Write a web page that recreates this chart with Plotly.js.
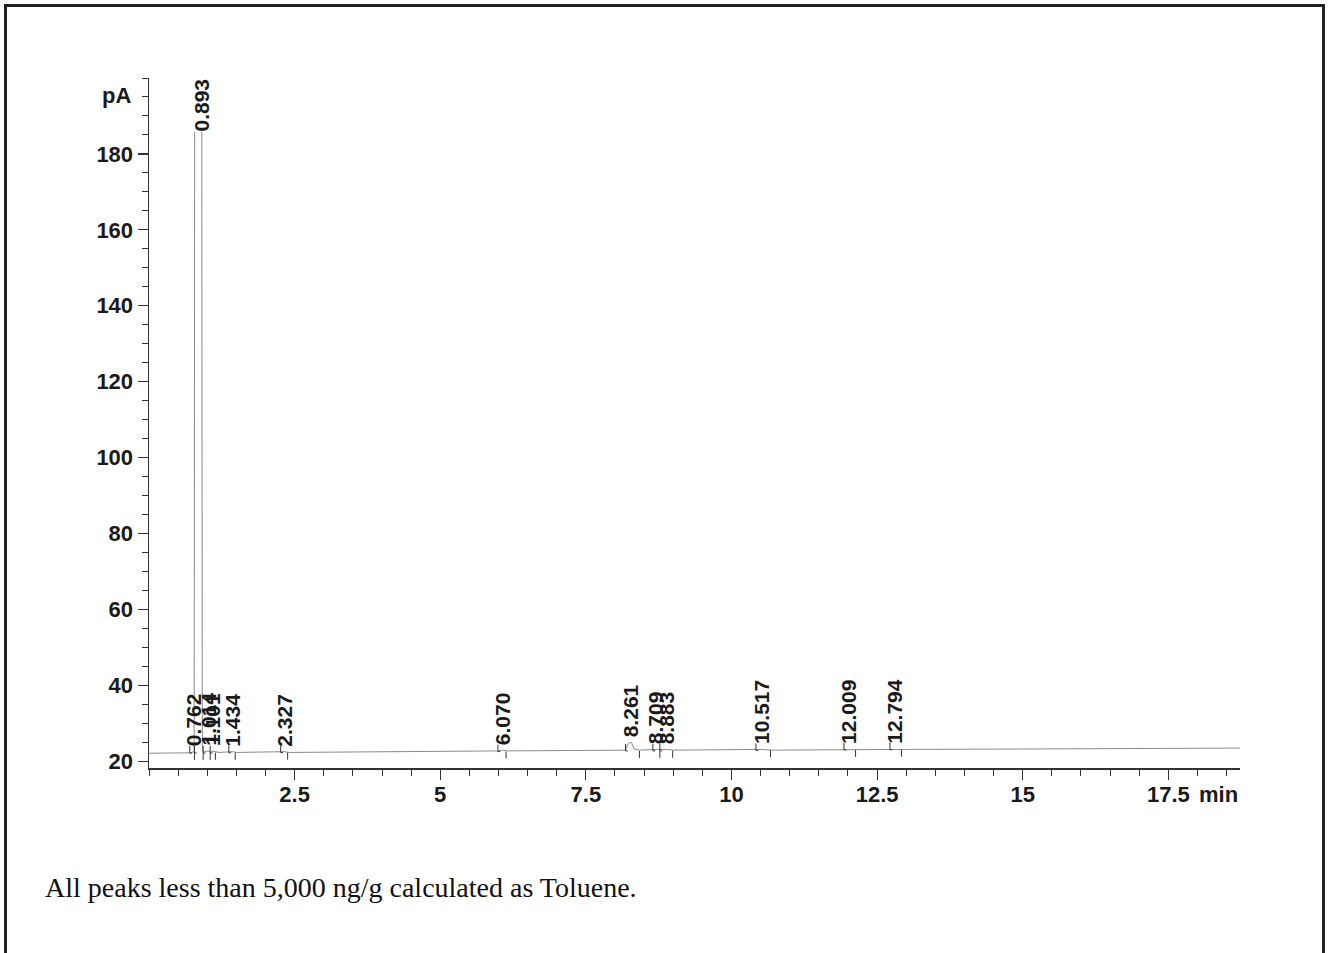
<!DOCTYPE html>
<html>
<head>
<meta charset="utf-8">
<script src="https://cdn.plot.ly/plotly-3.0.1.min.js"></script>
<style>
  html, body { margin: 0; padding: 0; background: #fff; overflow: hidden; }
  #chart { position: absolute; left: 0; top: 0; width: 1328px; height: 953px; }
  #frame { position: absolute; left: 4px; top: 4px; width: 1315px; height: 1000px;
           border: 3px solid #222; pointer-events: none; }
  #note { position: absolute; left: 45px; top: 871px; font-family: "Liberation Serif", "Times New Roman", serif;
          font-size: 28px; line-height: 34px; color: #111; white-space: nowrap; }
</style>
</head>
<body>
<div id="chart"></div>
<div id="frame"></div>
<div id="note">All peaks less than 5,000 ng/g calculated as Toluene.</div>
<script>
// ---- data ----
const signalTime = [0.0, 0.74, 0.762, 0.775, 0.785, 0.905, 0.915, 0.93, 1.014, 1.05, 1.101, 1.2, 1.434, 1.5,
                    2.327, 2.4, 6.0, 6.07, 6.15, 8.18, 8.23, 8.28, 8.33, 8.42, 8.709, 8.883, 9.0,
                    10.517, 10.7, 12.009, 12.794, 13.0, 15.0, 18.73];
const signalPA   = [22.1, 22.2, 22.6, 22.3, 206, 206, 22.9, 22.4, 22.7, 22.4, 22.6, 22.3, 22.5, 22.3,
                    22.5, 22.3, 22.7, 22.9, 22.7, 22.9, 24.7, 25.0, 23.2, 22.9, 23.1, 23.1, 22.9,
                    23.1, 22.9, 23.1, 23.2, 23.1, 23.2, 23.45];

const peakLabels = ['0.762', '0.893', '1.014', '1.101', '1.434', '2.327', '6.070', '8.261', '8.709', '8.883', '10.517', '12.009', '12.794'];
const peakRT     = [0.762, 0.893, 1.014, 1.101, 1.434, 2.327, 6.070, 8.261, 8.709, 8.883, 10.517, 12.009, 12.794];
const peakStart  = [0.70, 0.78, 0.93, 1.05, 1.37, 2.26, 5.99, 8.18, 8.65, 8.77, 10.42, 11.93, 12.72];
const peakEnd    = [0.78, 0.93, 1.05, 1.14, 1.48, 2.38, 6.13, 8.42, 8.77, 8.99, 10.67, 12.13, 12.92];

const xTickVals  = [2.5, 5, 7.5, 10, 12.5, 15, 17.5];
const xTickText  = ['2.5', '5', '7.5', '10', '12.5', '15', '17.5'];
const yTickVals  = [20, 40, 60, 80, 100, 120, 140, 160, 180];
const yTickText  = ['20', '40', '60', '80', '100', '120', '140', '160', '180'];

// ---- helpers ----
function signalAt(t) {
  for (let i = 0; i < signalTime.length - 1; i++) {
    if (t >= signalTime[i] && t <= signalTime[i + 1]) {
      const f = (t - signalTime[i]) / (signalTime[i + 1] - signalTime[i]);
      return signalPA[i] + f * (signalPA[i + 1] - signalPA[i]);
    }
  }
  return signalPA[signalPA.length - 1];
}
function baselineAt(t) {
  const t0 = signalTime[0], t1 = signalTime[signalTime.length - 1];
  const v0 = signalPA[0], v1 = signalPA[signalPA.length - 1];
  return v0 + (t - t0) / (t1 - t0) * (v1 - v0);
}

const FONT = '"Liberation Sans", Arial, sans-serif';
const INK = '#1a1a1a';
const TICKSIZE = 22;
const LABELSIZE = 21;

const shapes = [];
for (let i = 0; i < peakRT.length; i++) {
  const bs = baselineAt(peakStart[i]);
  const be = baselineAt(peakEnd[i]);
  shapes.push({type: 'line', xref: 'x', yref: 'y', ysizemode: 'pixel', yanchor: bs,
               x0: peakStart[i], x1: peakStart[i], y0: 0, y1: 7, line: {color: '#333', width: 1}});
  shapes.push({type: 'line', xref: 'x', yref: 'y', ysizemode: 'pixel', yanchor: bs,
               x0: peakStart[i], x1: peakStart[i] + 0.04, y0: 0, y1: 0, line: {color: '#333', width: 1}});
  shapes.push({type: 'line', xref: 'x', yref: 'y', ysizemode: 'pixel', yanchor: be,
               x0: peakEnd[i], x1: peakEnd[i], y0: 0, y1: -7, line: {color: '#333', width: 1}});
}

const annotations = [];
for (let i = 0; i < peakRT.length; i++) {
  const top = signalAt(peakRT[i]) > 200;
  annotations.push({
    x: peakRT[i], xref: 'x',
    y: top ? 200 : signalAt(peakRT[i]), yref: 'y',
    yanchor: top ? 'top' : 'bottom', xanchor: 'center',
    yshift: top ? 0 : 4,
    text: peakLabels[i], textangle: -90, showarrow: false,
    bgcolor: top ? '#ffffff' : 'rgba(0,0,0,0)', borderpad: 0,
    font: {family: FONT, size: LABELSIZE, color: INK, weight: 'bold'}
  });
}
annotations.push({x: 0, xref: 'paper', xanchor: 'right', xshift: -16, y: 195.5, yref: 'y', yanchor: 'middle',
                  text: 'pA', showarrow: false, font: {family: FONT, size: TICKSIZE, color: INK, weight: 'bold'}});
annotations.push({x: 1, xref: 'paper', xanchor: 'right', y: 0, yref: 'paper', yanchor: 'top', yshift: -12,
                  text: 'min', showarrow: false, font: {family: FONT, size: TICKSIZE, color: INK, weight: 'bold'}});

const trace = {
  x: signalTime, y: signalPA, type: 'scatter', mode: 'lines',
  line: {color: '#8a8a8a', width: 1}, hoverinfo: 'skip', showlegend: false
};

const layout = {
  width: 1328, height: 953,
  margin: {l: 149, r: 88, t: 78, b: 185},
  paper_bgcolor: '#ffffff', plot_bgcolor: '#ffffff',
  showlegend: false,
  xaxis: {
    range: [0, 18.73], showgrid: false, zeroline: false,
    showline: true, linecolor: '#333', linewidth: 1.5,
    ticks: 'outside', ticklen: 10, tickcolor: '#333', tickwidth: 1.2,
    ticklabelstandoff: -4,
    tickvals: xTickVals, ticktext: xTickText,
    tickfont: {family: FONT, size: TICKSIZE, color: INK, weight: 'bold'},
    minor: {dtick: 0.5, tick0: 0, ticks: 'outside', ticklen: 6, tickcolor: '#333', tickwidth: 1, showgrid: false}
  },
  yaxis: {
    range: [18.2, 200], showgrid: false, zeroline: false,
    showline: true, linecolor: '#333', linewidth: 1.5,
    ticks: 'outside', ticklen: 10, tickcolor: '#333', tickwidth: 1.2,
    tickvals: yTickVals, ticktext: yTickText,
    tickfont: {family: FONT, size: TICKSIZE, color: INK, weight: 'bold'},
    minor: {dtick: 5, tick0: 0, ticks: 'outside', ticklen: 6, tickcolor: '#333', tickwidth: 1, showgrid: false}
  },
  shapes: shapes,
  annotations: annotations
};

Plotly.newPlot('chart', [trace], layout, {displayModeBar: false, staticPlot: true});
</script>
</body>
</html>
